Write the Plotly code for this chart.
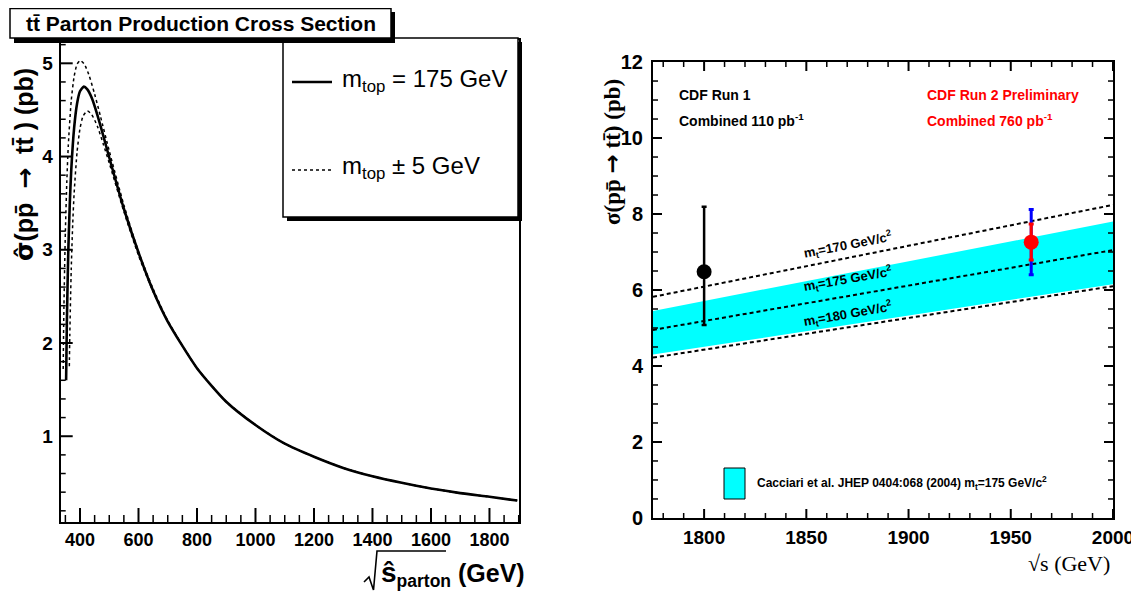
import plotly.graph_objects as go

# page body has an 8px margin: the figure is drawn 8px in from the window edge
OFF = 8
W, H = 1139 - 2 * OFF, 599 - 2 * OFF


def px(x):
    return (x - OFF) / W


def py(y):
    return 1 - (y - OFF) / H


# ---------------- Left panel data (parton cross section) ----------------
sqrt_s_175 = [352.5, 355, 360, 365, 370, 380, 390, 400, 413, 425, 440, 460, 480, 500,
              550, 600, 650, 700, 800, 900, 1000, 1100, 1200, 1300, 1400, 1500, 1600,
              1700, 1800, 1895]
sigma_175 = [1.60, 2.21, 2.99, 3.49, 3.85, 4.31, 4.57, 4.70, 4.75, 4.72, 4.63, 4.44, 4.22, 3.99,
             3.44, 2.97, 2.56, 2.23, 1.73, 1.37, 1.12, 0.92, 0.78, 0.66, 0.57, 0.50, 0.44,
             0.39, 0.35, 0.31]

sqrt_s_170 = [342.5, 345, 350, 355, 360, 370, 380, 390, 401, 415, 430, 450, 470, 500,
              550, 600, 650, 700, 800, 900, 1000, 1100, 1200, 1300, 1400, 1500, 1600,
              1700, 1800, 1895]
sigma_170 = [1.72, 2.38, 3.20, 3.74, 4.12, 4.60, 4.86, 4.99, 5.03, 4.99, 4.88, 4.67, 4.43, 4.06,
             3.48, 2.98, 2.58, 2.24, 1.73, 1.37, 1.12, 0.92, 0.78, 0.66, 0.57, 0.50, 0.44,
             0.39, 0.35, 0.31]

sqrt_s_180 = [363.5, 365, 370, 375, 380, 390, 400, 410, 425, 440, 460, 480, 500,
              550, 600, 650, 700, 800, 900, 1000, 1100, 1200, 1300, 1400, 1500, 1600,
              1700, 1800, 1895]
sigma_180 = [1.75, 2.07, 2.79, 3.27, 3.61, 4.05, 4.30, 4.43, 4.49, 4.45, 4.32, 4.13, 3.93,
             3.41, 2.94, 2.55, 2.23, 1.73, 1.37, 1.12, 0.92, 0.78, 0.66, 0.57, 0.50, 0.44,
             0.39, 0.35, 0.31]

# ---------------- Right panel data (CDF measurements) ----------------
theory_energy = [1775, 2000]
theory_mt170 = [5.82, 8.24]
theory_mt175 = [4.95, 7.05]
theory_mt180 = [4.22, 6.10]
band_low = [4.30, 6.15]
band_high = [5.45, 7.80]

run1_energy = [1800]
run1_xsec = [6.48]
run1_err_up = [1.71]
run1_err_down = [1.40]

run2_energy = [1960]
run2_xsec = [7.26]
run2_stat_up = [0.48]
run2_stat_down = [0.47]
run2_tot_up = [0.86]
run2_tot_down = [0.86]

SANS = "Liberation Sans, Arial, Helvetica, sans-serif"
SERIF = "Liberation Serif, Times New Roman, serif"

LEFT_XRANGE = [334, 1902]
LEFT_YRANGE = [0.08, 5.25]
RIGHT_XRANGE = [1775, 2000.01]
RIGHT_YRANGE = [-0.001, 12.001]

# frame positions (window pixels)
L_X0, L_X1, L_Y0, L_Y1 = 60.7, 519.3, 40, 522     # left panel: left, right, top, bottom
R_X0, R_X1, R_Y0, R_Y1 = 653, 1113, 62, 518       # right panel

fig = go.Figure()

# left curves
fig.add_trace(go.Scatter(x=sqrt_s_170, y=sigma_170, mode="lines", xaxis="x", yaxis="y",
                         line=dict(color="black", width=1.5, dash="3px,3px", shape="spline", smoothing=0.6)))
fig.add_trace(go.Scatter(x=sqrt_s_180, y=sigma_180, mode="lines", xaxis="x", yaxis="y",
                         line=dict(color="black", width=1.5, dash="3px,3px", shape="spline", smoothing=0.6)))
fig.add_trace(go.Scatter(x=sqrt_s_175, y=sigma_175, mode="lines", xaxis="x", yaxis="y",
                         line=dict(color="black", width=2.6, shape="spline", smoothing=0.6)))

# right band
fig.add_trace(go.Scatter(x=theory_energy, y=band_low, mode="lines", xaxis="x2", yaxis="y2",
                         line=dict(width=0, color="#00FFFF")))
fig.add_trace(go.Scatter(x=theory_energy, y=band_high, mode="lines", xaxis="x2", yaxis="y2",
                         line=dict(width=0, color="#00FFFF"), fill="tonexty", fillcolor="#00FFFF"))
for vals in (theory_mt170, theory_mt175, theory_mt180):
    fig.add_trace(go.Scatter(x=theory_energy, y=vals, mode="lines", xaxis="x2", yaxis="y2",
                             line=dict(color="black", width=2, dash="4px,3px")))

# Run 1
fig.add_trace(go.Scatter(x=run1_energy, y=run1_xsec, mode="markers", xaxis="x2", yaxis="y2",
                         marker=dict(color="black", size=15),
                         error_y=dict(type="data", array=run1_err_up, arrayminus=run1_err_down,
                                      color="black", thickness=2.5, width=2.5)))
# Run 2 total
fig.add_trace(go.Scatter(x=run2_energy, y=run2_xsec, mode="markers", xaxis="x2", yaxis="y2",
                         marker=dict(color="rgba(0,0,0,0)", size=1),
                         error_y=dict(type="data", array=run2_tot_up, arrayminus=run2_tot_down,
                                      color="blue", thickness=3, width=2.5)))
# Run 2 stat
fig.add_trace(go.Scatter(x=run2_energy, y=run2_xsec, mode="markers", xaxis="x2", yaxis="y2",
                         marker=dict(color="red", size=15),
                         error_y=dict(type="data", array=run2_stat_up, arrayminus=run2_stat_down,
                                      color="red", thickness=3, width=2.5)))


def label_axis(**kw):
    d = dict(showgrid=False, zeroline=False, automargin=False, ticklabeloverflow="allow",
             showline=True, linecolor="black", linewidth=2, mirror=True, ticks="")
    d.update(kw)
    return d


fig.update_layout(
    template="none",
    width=W, height=H, autosize=False,
    margin=dict(l=0, r=0, t=0, b=0, pad=0),
    paper_bgcolor="white", plot_bgcolor="white",
    showlegend=False,
    xaxis=label_axis(domain=[px(L_X0), px(L_X1)], range=LEFT_XRANGE, anchor="y", dtick=200, tick0=0,
                     tickfont=dict(family=SANS, size=18, color="black", weight="bold"),
                     ticklabelstandoff=0),
    yaxis=label_axis(domain=[py(L_Y1), py(L_Y0)], range=LEFT_YRANGE, anchor="x", dtick=1, tick0=0,
                     tickfont=dict(family=SANS, size=19, color="black", weight="bold"),
                     ticklabelstandoff=2),
    xaxis2=label_axis(domain=[px(R_X0), px(R_X1)], range=RIGHT_XRANGE, anchor="y2", dtick=50, tick0=0,
                      tickfont=dict(family=SANS, size=19, color="black", weight="bold"),
                      ticklabelstandoff=1),
    yaxis2=label_axis(domain=[py(R_Y1), py(R_Y0)], range=RIGHT_YRANGE, anchor="x2", dtick=2, tick0=0,
                      tickfont=dict(family=SANS, size=20, color="black", weight="bold"),
                      ticklabelstandoff=4),
)


def rect(x0, y0, x1, y1, fill, line_w=0, line_c="black"):
    return dict(type="rect", xref="paper", yref="paper", x0=px(x0), x1=px(x1), y0=py(y1), y1=py(y0),
                fillcolor=fill, line=dict(width=line_w, color=line_c), layer="above")


def seg(x0, y0, x1, y1, w=1.5, dash="solid"):
    return dict(type="line", xref="paper", yref="paper", x0=px(x0), x1=px(x1), y0=py(y0), y1=py(y1),
                line=dict(width=w, color="black", dash=dash), layer="above")


def lin(v, rng, p0, p1):
    """Position (window px) of an axis value along a frame edge from p0 to p1."""
    return p0 + (v - rng[0]) / (rng[1] - rng[0]) * (p1 - p0)


def xticks(values, rng, major_every, y_edge, direction, major_len, minor_len, x0p, x1p):
    out = []
    for v in values:
        is_major = abs(v / major_every - round(v / major_every)) < 1e-6
        ln = major_len if is_major else minor_len
        xp = lin(v, rng, x0p, x1p)
        out.append(seg(xp, y_edge, xp, y_edge + direction * ln, 2 if is_major else 1.5))
    return out


def yticks(values, rng, major_every, x_edge, direction, major_len, minor_len, y0p, y1p):
    out = []
    for v in values:
        is_major = abs(v / major_every - round(v / major_every)) < 1e-6
        ln = major_len if is_major else minor_len
        yp = lin(v, rng, y0p, y1p)
        out.append(seg(x_edge, yp, x_edge + direction * ln, yp, 2 if is_major else 1.5))
    return out


left_x_tickvals = [350 + 50 * i for i in range(32)]           # 350 ... 1900
left_y_tickvals = [round(0.2 * i, 1) for i in range(1, 27)]   # 0.2 ... 5.2
right_x_tickvals = [1780 + 10 * i for i in range(23)]         # 1780 ... 2000
right_y_tickvals = [0.5 * i for i in range(1, 24)]            # 0.5 ... 11.5

tick_shapes = []
tick_shapes += xticks(left_x_tickvals, LEFT_XRANGE, 200, L_Y1, -1, 14, 7, L_X0, L_X1)
tick_shapes += yticks(left_y_tickvals, LEFT_YRANGE, 1, L_X0, +1, 12, 5, L_Y1, L_Y0)
tick_shapes += xticks(right_x_tickvals, RIGHT_XRANGE, 50, R_Y1, -1, 9, 5, R_X0, R_X1)
tick_shapes += xticks(right_x_tickvals, RIGHT_XRANGE, 50, R_Y0, +1, 9, 5, R_X0, R_X1)
tick_shapes += yticks(right_y_tickvals, RIGHT_YRANGE, 2, R_X0, +1, 9, 5, R_Y1, R_Y0)
tick_shapes += yticks(right_y_tickvals, RIGHT_YRANGE, 2, R_X1, -1, 9, 5, R_Y1, R_Y0)

shapes = tick_shapes + [
    rect(287, 42, 522, 221, "black"),
    rect(283, 38, 518, 217, "white", 1.5),
    rect(14, 12, 395, 43, "black"),
    rect(10, 8.5, 391, 38, "white", 1.5),
    seg(292, 82, 332, 82, 2.6),
    seg(292, 170, 332, 170, 1.5, "3px,3px"),
    # radical for left x title
    dict(type="path", xref="paper", yref="paper",
         path="M {} {} L {} {} L {} {} L {} {} L {} {}".format(
             px(364), py(582), px(369), py(577), px(373.5), py(590), px(377), py(551), px(446), py(551)),
         line=dict(width=1.6, color="black"), layer="above"),
    # legend box of the right panel
    rect(724, 468, 745, 499, "#00FFFF", 1),
]
fig.update_layout(shapes=shapes)


def ann(text, x, y, size, family=SANS, color="black", xanchor="center", yanchor="middle", angle=0):
    return dict(text=text, x=px(x), y=py(y), xref="paper", yref="paper", showarrow=False,
                xanchor=xanchor, yanchor=yanchor, textangle=angle,
                font=dict(family=family, size=size, color=color))


ARROW = "<span style='font-family:DejaVu Sans'>\u2192</span>"
SIGHAT = "<span style='font-family:DejaVu Sans'>\u03c3\u0302</span>"

annotations = [
    ann("<b>tt\u0304 Parton Production Cross Section</b>", 200.5, 23, 21),
    ann("m<sub>top</sub> = 175 GeV", 340, 80, 24, xanchor="left"),
    ann("m<sub>top</sub> \u00b1 5 GeV", 340, 167, 24, xanchor="left"),
    ann("<b>" + SIGHAT + "(pp\u0304  " + ARROW + "  tt\u0304 ) (pb)</b>", 25, 165, 25, angle=-90),
    ann("<b><span style='font-size:28px'>\u015d</span><sub>parton</sub> (GeV)</b>", 379, 574, 25,
        xanchor="left"),
    ann("<b>\u03c3(pp\u0304 " + ARROW + " tt\u0304) (pb)</b>", 612, 152, 23, family=SERIF, angle=-90),
    ann("\u221as (GeV)", 1112, 563, 22, family=SERIF, xanchor="right"),
    ann("<b>CDF Run 1</b>", 677, 95, 14, xanchor="left"),
    ann("<b>Combined 110 pb<sup>-1</sup></b>", 677, 120, 14, xanchor="left"),
    ann("<b>CDF Run 2 Preliminary</b>", 925, 95, 14, color="red", xanchor="left"),
    ann("<b>Combined 760 pb<sup>-1</sup></b>", 925, 120, 14, color="red", xanchor="left"),
    ann("<b>m<sub>t</sub>=170 GeV/c<sup>2</sup></b>", 847, 245, 13, angle=-11),
    ann("<b>m<sub>t</sub>=175 GeV/c<sup>2</sup></b>", 847, 279, 13, angle=-10),
    ann("<b>m<sub>t</sub>=180 GeV/c<sup>2</sup></b>", 847, 314, 13, angle=-10),
    ann("<b>Cacciari et al. JHEP 0404:068 (2004) m<sub>t</sub>=175 GeV/c<sup>2</sup></b>", 755, 483, 12,
        xanchor="left"),
]
fig.update_layout(annotations=annotations)

fig.write_html("out.html")
